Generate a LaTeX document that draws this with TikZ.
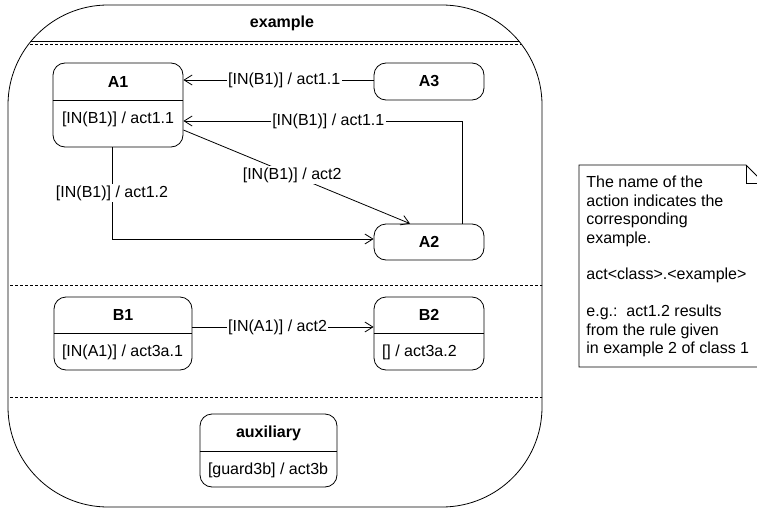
\documentclass[tikz,border=0pt]{standalone}
\usepackage{fontspec}
\setmainfont{Liberation Sans}
\usetikzlibrary{arrows.meta}
\usetikzlibrary{positioning}
\tikzstyle{state_box} = [
    rectangle,
    rounded corners=12pt,
    draw=black,
    fill=white,
    inner sep=0pt
]
\tikzstyle{state_name} = [
    font=\fontsize{16}{18.4}\selectfont\bfseries,
    inner sep=0pt
]
\tikzstyle{state_action} = [
    anchor=west,
    inner sep=0pt
]
\tikzstyle{transition} = [
    draw=black,
    -{Straight Barb[length=8pt, width=10pt]}
]
\tikzstyle{guard} = [
    fill=white,
    inner sep=1.5pt
]
\tikzstyle{region_line} = [
    dash pattern=on 3pt off 2pt
]

\begin{document}
\begin{tikzpicture}[
    x=1pt, y=-1pt,
    font=\fontsize{16}{18.4}\selectfont,
    line width=0.8pt
]
\useasboundingbox (0,0) rectangle (757,508);
\clip (0,0) rectangle (757,508);

% container with its regions
\draw[rounded corners=100pt] (8,5) rectangle (542,507);
\begin{scope}
    \clip[rounded corners=100pt] (8,5) rectangle (542,507);
    \draw (0,41) -- (560,41);
    \draw[region_line] (0,44) -- (560,44);
    \draw[region_line] (0,285) -- (560,285);
    \draw[region_line] (0,397) -- (560,397);
\end{scope}
\node [state_name] (title) at (282,23) {example};

% region A
\node [state_box, minimum width=130pt, minimum height=84pt] (A1) at (118,105) {};
\node [state_name] (A1_name) at (118,82) {A1};
\draw (A1.west |- 0,100) -- (A1.east |- 0,100);
\node [state_action] (A1_act) at ([xshift=9pt]A1.west |- 0,119) {[IN(B1)] / act1.1};

\node [state_box, minimum width=110pt, minimum height=37pt] (A3) at (429,81.5) {};
\node [state_name] (A3_name) at (A3) {A3};

\node [state_box, minimum width=110pt, minimum height=36pt] (A2) at (429,242) {};
\node [state_name] (A2_name) at (A2) {A2};

\draw [transition] (A3.west |- 0,80) -- (A1.east |- 0,80)
    node [guard, pos=0.47] {[IN(B1)] / act1.1};
\draw [transition] (A2.north -| 462,0) |- (A1.east |- 0,121)
    node [guard, pos=0.74] {[IN(B1)] / act1.1};
\draw [transition] (A1.east |- 0,130) -- (A2.north -| 410,0)
    node [guard, pos=0.48] {[IN(B1)] / act2};
\draw [transition] (A1.south -| 112,0) |- (A2.west |- 0,239)
    node [guard, pos=0.25] {[IN(B1)] / act1.2};

% region B
\node [state_box, minimum width=138pt, minimum height=73pt] (B1) at (123,333.5) {};
\node [state_name] (B1_name) at (123,315) {B1};
\draw (B1.west |- 0,333) -- (B1.east |- 0,333);
\node [state_action] (B1_act) at ([xshift=8pt]B1.west |- 0,352) {[IN(A1)] / act3a.1};

\node [state_box, minimum width=110pt, minimum height=73pt] (B2) at (429,333.5) {};
\node [state_name] (B2_name) at (429,315) {B2};
\draw (B2.west |- 0,333) -- (B2.east |- 0,333);
\node [state_action] (B2_act) at ([xshift=8pt]B2.west |- 0,352) {[] / act3a.2};

\draw [transition] (B1.east |- 0,327) -- (B2.west |- 0,327)
    node [guard, pos=0.47] {[IN(A1)] / act2};

% auxiliary region
\node [state_box, minimum width=137pt, minimum height=73pt] (aux) at (268.5,450.5) {};
\node [state_name] (aux_name) at (268.5,433) {auxiliary};
\draw (aux.west |- 0,451) -- (aux.east |- 0,451);
\node [state_action] (aux_act) at ([xshift=8pt]aux.west |- 0,470) {[guard3b] / act3b};

% note
\draw (579,165) -- (746,165) -- (764,183) -- (764,367) -- (579,367) -- cycle;
\draw (746,165) -- (746,183) -- (764,183);
\node [anchor=north west, align=left, inner sep=0pt] (note) at (586,176) {
    The name of the\\
    action indicates the\\
    corresponding\\
    example.\\[18.4pt]
    act<class>.<example>\\[18.4pt]
    e.g.:\ \ act1.2 results\\
    from the rule given\\
    in example 2 of class 1
};
\end{tikzpicture}
\end{document}
